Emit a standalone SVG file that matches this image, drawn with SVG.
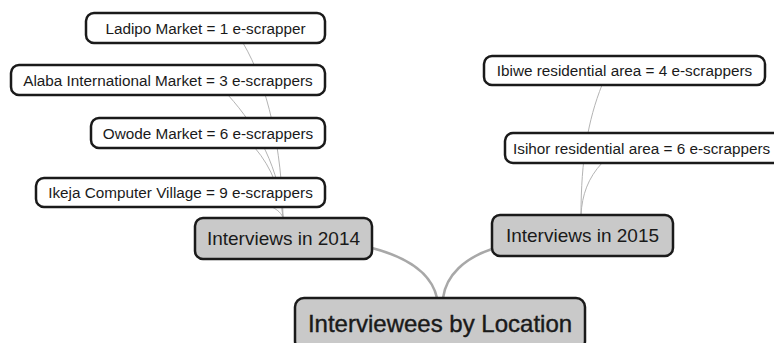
<svg xmlns="http://www.w3.org/2000/svg" width="774" height="343" viewBox="0 0 774 343">
  <style>
    .bg { fill: #ffffff; }
    .leaf rect { fill: #ffffff; stroke: #1a1a1a; stroke-width: 2.5; }
    .branch rect, .root rect { fill: #c9c9c9; stroke: #1a1a1a; stroke-width: 2.5; }
    text { font-family: "Liberation Sans", Arial, sans-serif; fill: #1a1a1a; dominant-baseline: central; }
    .leaf text { font-size: 15.3px; text-anchor: middle; }
    .branch text { font-size: 19px; text-anchor: middle; }
    .root text { font-size: 24px; text-anchor: middle; stroke: #1a1a1a; stroke-width: 0.4; }
    .thin { fill: none; stroke: #b4b4b4; stroke-width: 1; }
    .thick { fill: none; stroke: #a8a8a8; stroke-width: 2.5; }
  </style>
  <rect class="bg" width="774" height="343"/>

  <g id="connectors">
    <!-- 2014 leaves -->
    <path class="thin" d="M243,43 C268,85 282,150 283,218"/>
    <path class="thin" d="M228,95 C258,128 280,170 283,218"/>
    <path class="thin" d="M255,148 C272,168 281,192 283,218"/>
    <path class="thin" d="M272,207 C278,210 282,214 283,218"/>
    <!-- 2015 leaves -->
    <path class="thin" d="M602,85 C588,120 581,160 581,215"/>
    <path class="thin" d="M602,163 C588,178 582,195 581,215"/>
    <!-- branches to root -->
    <path class="thick" d="M372,248 C410,258 432,275 437,298"/>
    <path class="thick" d="M492,249 C465,258 446,275 443,298"/>
  </g>

  <g id="ladipo" class="leaf">
    <rect x="86" y="13" width="239" height="30" rx="8"/>
    <text x="205.5" y="28">Ladipo Market = 1 e-scrapper</text>
  </g>
  <g id="alaba" class="leaf">
    <rect x="11" y="65" width="314" height="30" rx="8"/>
    <text x="168" y="80">Alaba International Market = 3 e-scrappers</text>
  </g>
  <g id="owode" class="leaf">
    <rect x="91" y="118" width="234" height="30" rx="8"/>
    <text x="208" y="133">Owode Market = 6 e-scrappers</text>
  </g>
  <g id="ikeja" class="leaf">
    <rect x="36" y="178" width="289" height="29" rx="8"/>
    <text x="180.5" y="192.5">Ikeja Computer Village = 9 e-scrappers</text>
  </g>
  <g id="ibiwe" class="leaf">
    <rect x="484" y="56" width="281" height="29" rx="8"/>
    <text x="624.5" y="70.5">Ibiwe residential area = 4 e-scrappers</text>
  </g>
  <g id="isihor" class="leaf">
    <rect x="505" y="133" width="285" height="30" rx="8"/>
    <text x="513" y="148" style="text-anchor:start">Isihor residential area = 6 e-scrappers</text>
  </g>

  <g id="y2014" class="branch">
    <rect x="195" y="218" width="177" height="41" rx="8"/>
    <text x="283.5" y="238.5">Interviews in 2014</text>
  </g>
  <g id="y2015" class="branch">
    <rect x="492" y="215" width="181" height="41" rx="8"/>
    <text x="582.5" y="235.5">Interviews in 2015</text>
  </g>

  <g id="root" class="root">
    <rect x="295" y="298" width="290" height="52" rx="9"/>
    <text x="440" y="323">Interviewees by Location</text>
  </g>
</svg>
